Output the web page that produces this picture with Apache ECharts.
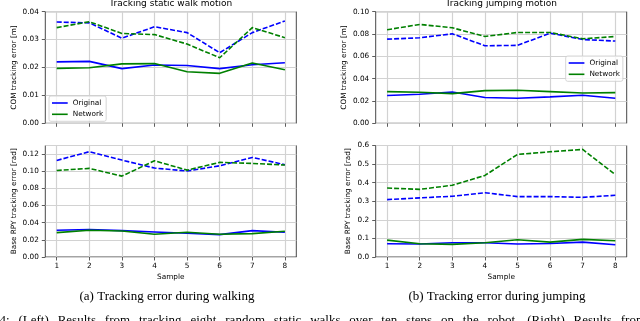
<!DOCTYPE html>
<html>
<head>
<meta charset="utf-8">
<script src="https://cdn.jsdelivr.net/npm/echarts@6/dist/echarts.min.js"></script>
<style>
  html, body { margin: 0; padding: 0; background: #fff; }
  #main { width: 640px; height: 321px; }
</style>
</head>
<body>
<div id="main"></div>
<script>
// sample index on the x axis
var samples = [1, 2, 3, 4, 5, 6, 7, 8]

// walking, COM error [m]
var walkComOrigMean = [0.0220, 0.0222, 0.0196, 0.0209, 0.0207, 0.0196, 0.0210, 0.0217]
var walkComOrigMax = [0.0363, 0.0360, 0.0305, 0.0346, 0.0325, 0.0253, 0.0325, 0.0367]
var walkComNetMean = [0.0197, 0.0199, 0.0213, 0.0214, 0.0185, 0.0179, 0.0216, 0.0192]
var walkComNetMax = [0.0343, 0.0364, 0.0322, 0.0318, 0.0284, 0.0235, 0.0343, 0.0307]

// walking, base RPY error [rad]
var walkRpyOrigMean = [0.0312, 0.0320, 0.0308, 0.0292, 0.0277, 0.0261, 0.0308, 0.0288]
var walkRpyOrigMax = [0.1126, 0.1228, 0.1130, 0.1037, 0.1002, 0.1064, 0.1161, 0.1076]
var walkRpyNetMean = [0.0284, 0.0312, 0.0304, 0.0265, 0.0288, 0.0265, 0.0273, 0.0300]
var walkRpyNetMax = [0.1009, 0.1033, 0.0943, 0.1122, 0.1013, 0.1103, 0.1091, 0.1072]

// jumping, COM error [m]
var jumpComOrigMean = [0.0249, 0.0260, 0.0281, 0.0231, 0.0225, 0.0237, 0.0251, 0.0225]
var jumpComOrigMax = [0.0754, 0.0766, 0.0802, 0.0695, 0.0698, 0.0808, 0.0751, 0.0737]
var jumpComNetMean = [0.0284, 0.0278, 0.0266, 0.0293, 0.0296, 0.0284, 0.0272, 0.0275]
var jumpComNetMax = [0.0838, 0.0886, 0.0856, 0.0778, 0.0814, 0.0814, 0.0757, 0.0778]

// jumping, base RPY error [rad]
var jumpRpyOrigMean = [0.071, 0.070, 0.077, 0.077, 0.070, 0.073, 0.080, 0.066]
var jumpRpyOrigMax = [0.309, 0.318, 0.327, 0.346, 0.325, 0.325, 0.321, 0.332]
var jumpRpyNetMean = [0.091, 0.071, 0.068, 0.077, 0.093, 0.080, 0.095, 0.0875]
var jumpRpyNetMax = [0.371, 0.364, 0.386, 0.439, 0.552, 0.566, 0.579, 0.443]

var BLUE = "#0000ff"
var GREEN = "#008000"
var FONT = "DejaVu Sans"
var SERIF = "Liberation Serif"

var chart = echarts.init(document.getElementById("main"), null, { renderer: "canvas" })

function pairs(vals) {
  return samples.map(function (s, i) { return [s, vals[i]] })
}

function line(name, vals, idx, color, dashed) {
  return {
    name: name,
    type: "line",
    xAxisIndex: idx,
    yAxisIndex: idx,
    data: pairs(vals),
    symbol: "none",
    silent: true,
    animation: false,
    lineStyle: { color: color, width: 1.6, type: dashed ? [5, 2] : "solid" },
    itemStyle: { color: color }
  }
}

function xAxis(idx, showLabels) {
  return {
    type: "value",
    gridIndex: idx,
    min: 0.65,
    max: 8.35,
    name: showLabels ? "Sample" : "",
    nameLocation: "middle",
    nameGap: 16.5,
    nameTextStyle: { fontFamily: FONT, fontSize: 7.3, color: "#000" },
    axisLine: { show: false },
    axisTick: { show: true, length: 3.5, customValues: samples, lineStyle: { color: "#333", width: 0.8 } },
    axisLabel: {
      show: showLabels, customValues: samples, margin: 6,
      fontFamily: FONT, fontSize: 7.3, color: "#000"
    },
    splitLine: { show: true, lineStyle: { color: "#d2d2d2", width: 1.2 } }
  }
}

function yAxis(idx, name, max, interval, digits, gap) {
  return {
    type: "value",
    gridIndex: idx,
    min: 0,
    max: max,
    interval: interval,
    name: name,
    nameLocation: "middle",
    nameGap: gap,
    nameTextStyle: { fontFamily: FONT, fontSize: 7.3, color: "#000" },
    axisLine: { show: false },
    axisTick: { show: true, length: 3.5, lineStyle: { color: "#333", width: 0.8 } },
    axisLabel: {
      margin: 6.5, fontFamily: FONT, fontSize: 7.3, color: "#000",
      showMaxLabel: Math.abs(max / interval - Math.round(max / interval)) < 1e-6,
      formatter: function (v) { return v.toFixed(digits) }
    },
    splitLine: { show: true, lineStyle: { color: "#d2d2d2", width: 1.2 } }
  }
}

function grid(left, top, width, height) {
  return {
    left: left, top: top, width: width, height: height,
    show: true, borderColor: "#333", borderWidth: 0.9, backgroundColor: "transparent"
  }
}

function legend(left, top) {
  return {
    data: ["Original", "Network"],
    orient: "vertical",
    left: left,
    top: top,
    icon: "rect",
    itemWidth: 15.7,
    itemHeight: 1.6,
    itemGap: 3.3,
    itemTextGap: 5,
    padding: [3, 3, 3, 3],
    backgroundColor: "rgba(255,255,255,0.8)",
    borderColor: "#cccccc",
    borderWidth: 0.8,
    borderRadius: 2,
    selectedMode: false,
    textStyle: { fontFamily: FONT, fontSize: 7.3, lineHeight: 8, color: "#000" }
  }
}

function text(x, y, str, size, family, align) {
  return {
    type: "text", x: x, y: y, silent: true,
    style: {
      text: str, fontSize: size, fontFamily: family, fill: "#000",
      align: align || "center", verticalAlign: "middle"
    }
  }
}

// justified caption line (cut off at the bottom of the picture)
function justified(str, x0, x1, y, size, family) {
  var ctx = document.createElement("canvas").getContext("2d")
  ctx.font = size + "px '" + family + "'"
  var words = str.split(" ")
  var widths = words.map(function (w) { return ctx.measureText(w).width })
  var total = widths.reduce(function (a, b) { return a + b }, 0)
  var gap = (x1 - x0 - total) / (words.length - 1)
  var x = x0
  return words.map(function (w, i) {
    var el = text(x, y, w, size, family, "left")
    x += widths[i] + gap
    return el
  })
}

chart.setOption({
  animation: false,
  grid: [
    grid(45.3, 11.7, 251, 111.6),
    grid(45.3, 145.5, 251, 111.5),
    grid(375.7, 11.7, 251, 111.6),
    grid(375.7, 145.5, 251, 111.5)
  ],
  xAxis: [xAxis(0, false), xAxis(1, true), xAxis(2, false), xAxis(3, true)],
  yAxis: [
    yAxis(0, "COM tracking error [m]", 0.04, 0.01, 2, 28),
    yAxis(1, "Base RPY tracking error [rad]", 0.13, 0.02, 2, 28),
    yAxis(2, "COM tracking error [m]", 0.1, 0.02, 2, 28),
    yAxis(3, "Base RPY tracking error [rad]", 0.6, 0.1, 1, 24)
  ],
  legend: [legend(49, 96), legend(565.7, 56)],
  series: [
    line("Original", walkComOrigMean, 0, BLUE, false),
    line("Original max", walkComOrigMax, 0, BLUE, true),
    line("Network", walkComNetMean, 0, GREEN, false),
    line("Network max", walkComNetMax, 0, GREEN, true),

    line("Original", walkRpyOrigMean, 1, BLUE, false),
    line("Original max", walkRpyOrigMax, 1, BLUE, true),
    line("Network", walkRpyNetMean, 1, GREEN, false),
    line("Network max", walkRpyNetMax, 1, GREEN, true),

    line("Original", jumpComOrigMean, 2, BLUE, false),
    line("Original max", jumpComOrigMax, 2, BLUE, true),
    line("Network", jumpComNetMean, 2, GREEN, false),
    line("Network max", jumpComNetMax, 2, GREEN, true),

    line("Original", jumpRpyOrigMean, 3, BLUE, false),
    line("Original max", jumpRpyOrigMax, 3, BLUE, true),
    line("Network", jumpRpyNetMean, 3, GREEN, false),
    line("Network max", jumpRpyNetMax, 3, GREEN, true)
  ],
  graphic: [
    text(170.8, 3.2, "Tracking static walk motion", 9, FONT),
    text(501.2, 3.2, "Tracking jumping motion", 9, FONT),
    text(167, 297, "(a) Tracking error during walking", 13, SERIF),
    text(497, 297, "(b) Tracking error during jumping", 13, SERIF)
  ].concat(justified(
    "4: (Left) Results from tracking eight random static walks over ten steps on the robot. (Right) Results from",
    -0.5, 646, 320.5, 13, SERIF))
})
</script>
</body>
</html>
